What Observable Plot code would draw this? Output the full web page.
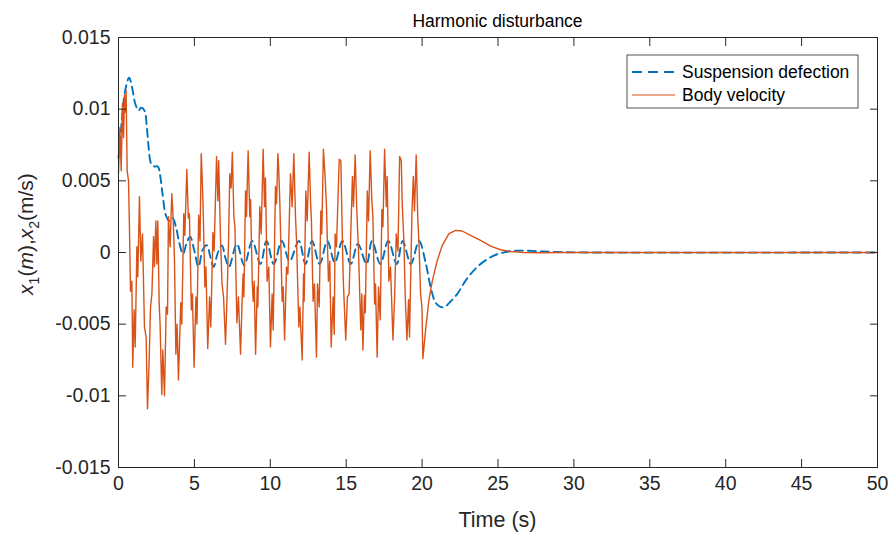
<!DOCTYPE html>
<html><head><meta charset="utf-8">
<script src="https://cdn.jsdelivr.net/npm/d3@7"></script>
<script src="https://cdn.jsdelivr.net/npm/@observablehq/plot@0.6"></script>
<style>body{margin:0;background:#fff;} svg{display:block}</style>
</head><body><div id="chart"></div>
<script>
const chartTitle = "Harmonic disturbance";
const xLabel = "Time (s)";
const seriesNames = ["Suspension defection", "Body velocity"];
const seriesColors = ["#0072BD", "#D95319"];
const xTicks = [0, 5, 10, 15, 20, 25, 30, 35, 40, 45, 50];
const yTicks = [-0.015, -0.01, -0.005, 0, 0.005, 0.01, 0.015];
const yTickLabels = ["-0.015", "-0.01", "-0.005", "0", "0.005", "0.01", "0.015"];

// Suspension defection (x1)
const suspTime = [0, 0.22, 0.44, 0.7, 0.88, 1.1, 1.32, 1.49, 1.71, 1.87, 1.98, 2.15, 2.37, 2.59, 2.74, 2.9, 3.12, 3.34, 3.56, 3.78, 4.0, 4.25, 4.5, 4.72, 5.0, 5.27, 5.55, 5.82, 6.05, 6.26, 6.55, 6.81, 7.05, 7.28, 7.8, 8.28, 8.81, 9.35, 9.75, 10.23, 10.76, 11.27, 11.88, 12.32, 12.75, 13.25, 13.76, 14.25, 14.75, 15.3, 15.77, 16.34, 16.7, 17.25, 17.77, 18.33, 18.72, 19.26, 19.8, 20.23, 20.56, 20.89, 21.21, 21.5, 21.8, 22.31, 22.97, 23.74, 24.51, 25.17, 26.05, 26.9, 28.0, 29.6, 31, 50];
const suspVal = [0.0066, 0.0092, 0.0113, 0.0122, 0.0116, 0.0104, 0.0099, 0.0101, 0.0099, 0.0087, 0.0074, 0.0062, 0.006, 0.006, 0.0054, 0.0041, 0.0026, 0.0022, 0.0024, 0.0018, 0.0007, -0.0001, 0.0007, 0.0011, 0.0001, -0.001, 0.0002, 0.0005, -0.0003, -0.001, 0.0, 0.0005, -0.0004, -0.001, 0.0006, -0.0009, 0.0008, -0.0008, 0.0008, -0.0008, 0.0008, -0.0006, 0.0008, -0.0008, 0.0008, -0.0008, 0.0008, -0.0007, 0.0008, -0.0008, 0.0006, -0.0008, 0.0008, -0.0008, 0.0008, -0.0008, 0.0008, -0.0008, 0.0008, -0.0007, -0.0024, -0.0035, -0.0038, -0.0038, -0.0035, -0.0029, -0.0018, -0.0009, -0.00033, -0.00005, 0.00012, 0.00012, 0.00007, 0.00002, 0, 0];

// Body velocity (x2)
const bodyTime = [0.00, 0.09, 0.18, 0.26, 0.33, 0.40, 0.44, 0.50, 0.57, 0.66, 0.72, 0.79, 0.88, 0.94, 1.03, 1.10, 1.21, 1.27, 1.38, 1.47, 1.58, 1.71, 1.82, 1.91, 2.02, 2.11, 2.20, 2.31, 2.37, 2.46, 2.53, 2.59, 2.68, 2.74, 2.85, 2.92, 3.03, 3.14, 3.23, 3.29, 3.40, 3.51, 3.60, 3.69, 3.78, 3.86, 3.95, 4.10, 4.17, 4.30, 4.37, 4.50, 4.60, 4.67, 4.80, 4.87, 4.98, 5.10, 5.17, 5.28, 5.37, 5.45, 5.52, 5.58, 5.69, 5.76, 5.88, 6.00, 6.08, 6.22, 6.30, 6.46, 6.55, 6.60, 6.72, 6.82, 6.92, 7.05, 7.15, 7.25, 7.33, 7.42, 7.50, 7.60, 7.67, 7.80, 7.90, 8.04, 8.15, 8.21, 8.26, 8.37, 8.43, 8.54, 8.65, 8.70, 8.81, 8.87, 8.94, 9.03, 9.14, 9.18, 9.31, 9.40, 9.53, 9.62, 9.68, 9.79, 9.90, 10.01, 10.12, 10.19, 10.34, 10.41, 10.50, 10.56, 10.63, 10.78, 10.85, 10.94, 11.07, 11.16, 11.33, 11.44, 11.55, 11.66, 11.73, 11.88, 11.95, 12.10, 12.19, 12.23, 12.34, 12.43, 12.56, 12.65, 12.71, 12.82, 12.91, 13.04, 13.11, 13.22, 13.33, 13.39, 13.50, 13.61, 13.70, 13.83, 13.92, 14.01, 14.14, 14.21, 14.27, 14.36, 14.54, 14.65, 14.71, 14.80, 14.86, 14.97, 15.08, 15.19, 15.41, 15.48, 15.59, 15.70, 15.81, 15.96, 16.03, 16.10, 16.20, 16.26, 16.39, 16.47, 16.58, 16.69, 16.76, 16.87, 16.93, 17.04, 17.13, 17.24, 17.35, 17.42, 17.53, 17.64, 17.70, 17.81, 17.92, 18.08, 18.19, 18.30, 18.41, 18.52, 18.63, 18.69, 18.80, 18.89, 19.00, 19.11, 19.17, 19.33, 19.42, 19.50, 19.61, 19.72, 19.79, 19.90, 19.99, 20.05, 20.23, 20.45, 20.67, 21.0, 21.33, 21.76, 22.2, 22.64, 23.19, 23.85, 24.51, 25.17, 25.83, 26.7, 27.8, 29.5, 50];
const bodyVal = [0.0055, 0.0087, 0.0057, 0.0104, 0.0080, 0.0110, 0.0098, 0.0113, 0.0057, 0.0050, 0.0018, -0.0027, -0.0020, -0.0080, -0.0040, -0.0066, 0.0004, -0.0017, 0.0039, -0.0006, 0.0013, -0.0052, -0.0059, -0.0109, -0.0075, -0.0038, -0.0029, 0.0011, -0.0010, 0.0022, -0.0008, 0.0022, -0.0036, -0.0050, -0.0099, -0.0068, -0.0100, -0.0038, -0.0043, 0.0025, 0.0004, 0.0041, 0.0025, -0.0006, -0.0071, -0.0050, -0.0089, -0.0035, -0.0050, 0.0027, 0.0012, 0.0058, 0.0024, 0.0027, -0.0040, -0.0029, -0.0080, -0.0031, -0.0050, 0.0026, 0.0008, 0.0069, 0.0050, 0.0029, -0.0024, -0.0010, -0.0067, -0.0031, -0.0052, 0.0014, 0.0001, 0.0067, 0.0036, 0.0064, 0.0010, -0.0022, -0.0031, -0.0064, -0.0031, 0.0008, 0.0055, 0.0045, 0.0070, 0.0025, 0.0018, -0.0049, -0.0031, -0.0071, -0.0031, -0.0015, -0.0031, 0.0043, 0.0025, 0.0071, 0.0025, 0.0037, -0.0020, -0.0034, -0.0020, -0.0071, -0.0024, -0.0038, 0.0032, 0.0013, 0.0072, 0.0032, 0.0052, -0.0020, -0.0010, -0.0066, -0.0029, -0.0054, 0.0046, 0.0034, 0.0069, 0.0057, 0.0034, -0.0034, -0.0024, -0.0061, -0.0010, -0.0015, 0.0055, 0.0032, 0.0069, 0.0025, 0.0008, -0.0052, -0.0038, -0.0075, -0.0015, -0.0034, 0.0043, 0.0022, 0.0070, 0.0036, 0.0022, -0.0034, -0.0022, -0.0073, -0.0022, -0.0038, 0.0029, 0.0013, 0.0072, 0.0053, 0.0032, -0.0020, -0.0006, -0.0066, -0.0031, -0.0057, 0.0013, 0.0004, 0.0065, 0.0064, 0.0029, -0.0017, -0.0033, -0.0061, -0.0031, -0.0029, 0.0053, 0.0032, 0.0068, 0.0029, 0.0001, -0.0054, -0.0029, -0.0068, -0.0030, -0.0042, 0.0043, 0.0022, 0.0071, 0.0036, 0.0025, -0.0036, -0.0022, -0.0073, -0.0024, -0.0047, 0.0030, 0.0018, 0.0072, 0.0032, 0.0053, -0.0020, -0.0010, -0.0061, -0.0031, 0.0013, 0.0001, 0.0067, 0.0064, 0.0034, 0.0008, -0.0031, -0.0061, -0.0033, -0.0059, 0.0027, 0.0053, 0.0029, 0.0068, 0.0022, 0.0008, -0.0029, -0.0038, -0.0074, -0.0054, -0.0033, -0.0020, -0.00056, 0.0005, 0.0013, 0.00154, 0.0015, 0.0012, 0.00084, 0.00044, 0.00019, 0.00007, 0.0, -0.00002, 0, 0];

const susp = suspTime.map((t, i) => ({t, v: suspVal[i]}));
const body = bodyTime.map((t, i) => ({t, v: bodyVal[i]}));

const W = 890, H = 534, mL = 118, mR = 13, mT = 37, mB = 67;
const font = "'Liberation Sans', Arial, Helvetica, sans-serif";
const ink = "#262626";
const dash = "8,5";

const plot = Plot.plot({
  width: W, height: H,
  marginLeft: mL, marginRight: mR, marginTop: mT, marginBottom: mB,
  style: {fontFamily: font, fontSize: "19.5px", color: ink, background: "#fff", overflow: "visible"},
  x: {domain: [0, 50]},
  y: {domain: [-0.015, 0.015]},
  marks: [
    Plot.line(susp, {x: "t", y: "v", stroke: seriesColors[0], strokeWidth: 1.9, strokeDasharray: dash, curve: "catmull-rom"}),
    Plot.line(body, {x: "t", y: "v", stroke: seriesColors[1], strokeWidth: 1.4}),
    Plot.frame({stroke: ink, strokeWidth: 1}),
    Plot.axisX({anchor: "bottom", ticks: xTicks, tickSize: -8, tickPadding: 17, label: null, stroke: ink, fill: ink}),
    Plot.axisX({anchor: "top", ticks: xTicks, tickSize: -8, tickFormat: () => "", label: null, stroke: ink}),
    Plot.axisY({anchor: "left", ticks: yTicks, tickSize: -8, tickPadding: 16, tickFormat: d => yTickLabels[yTicks.indexOf(d)], label: null, stroke: ink, fill: ink}),
    Plot.axisY({anchor: "right", ticks: yTicks, tickSize: -8, tickFormat: () => "", label: null, stroke: ink})
  ]
});
document.getElementById("chart").appendChild(plot);

const svg = d3.select(plot);
const cx = mL + (W - mL - mR) / 2;
svg.append("text").attr("x", cx).attr("y", 27).attr("text-anchor", "middle")
  .attr("font-family", font).attr("font-size", 17.5).attr("fill", "#000").text(chartTitle);
svg.append("text").attr("x", cx).attr("y", 527).attr("text-anchor", "middle")
  .attr("font-family", font).attr("font-size", 21.5).attr("fill", ink).text(xLabel);

// y label with subscripts
const yl = svg.append("text").attr("transform", "translate(33,234) rotate(-90)")
  .attr("text-anchor", "middle").attr("font-family", font).attr("font-size", 21).attr("fill", ink);
yl.append("tspan").attr("font-style", "italic").text("x");
yl.append("tspan").attr("font-size", 14).attr("dy", 6).text("1");
yl.append("tspan").attr("dy", -6).text("(");
yl.append("tspan").attr("font-style", "italic").text("m");
yl.append("tspan").text("),");
yl.append("tspan").attr("font-style", "italic").text("x");
yl.append("tspan").attr("font-size", 14).attr("dy", 6).text("2");
yl.append("tspan").attr("dy", -6).text("(m/s)");

// legend
const lg = svg.append("g").attr("font-family", font).attr("font-size", 17.5).attr("fill", "#000").attr("text-anchor", "start");
lg.append("rect").attr("x", 627).attr("y", 55).attr("width", 231).attr("height", 53)
  .attr("fill", "#fff").attr("stroke", ink).attr("stroke-width", 0.8);
seriesNames.forEach((name, i) => {
  const yy = 72 + i * 23;
  lg.append("line").attr("x1", 632).attr("x2", 675).attr("y1", yy).attr("y2", yy)
    .attr("stroke", seriesColors[i]).attr("stroke-width", i === 0 ? 1.9 : 1.2)
    .attr("stroke-dasharray", i === 0 ? "10,6" : null);
  lg.append("text").attr("x", 682).attr("y", yy).attr("dy", "0.35em").attr("text-anchor", "start").text(name);
});
</script>
</body></html>
